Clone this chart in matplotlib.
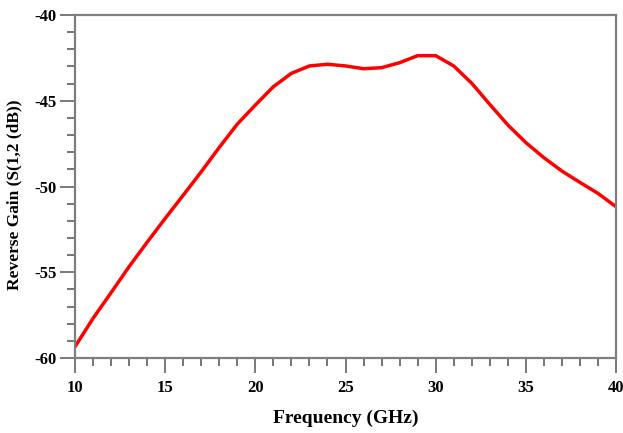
import matplotlib
matplotlib.use("Agg")
import matplotlib.pyplot as plt
from matplotlib.ticker import MultipleLocator

# reverse gain S(1,2) sampled every 1 GHz
freq_ghz = list(range(10, 41))
s12_db = [-59.34, -57.69, -56.19, -54.67, -53.25, -51.86, -50.51, -49.14,
          -47.72, -46.36, -45.25, -44.18, -43.40, -42.97, -42.87, -42.97,
          -43.13, -43.07, -42.78, -42.37, -42.37, -42.97, -43.98, -45.21,
          -46.41, -47.44, -48.32, -49.10, -49.76, -50.40, -51.18]

plt.rcParams['font.family'] = ['Liberation Serif', 'DejaVu Serif']
plt.rcParams['font.weight'] = 'bold'
plt.rcParams['axes.unicode_minus'] = False

fig = plt.figure(figsize=(6.23, 4.33), dpi=100)
ax = fig.add_axes([0.1204, 0.1732, 0.8684, 0.7921])

ax.plot(freq_ghz, s12_db, color='#ff0000', linewidth=2.5,
        solid_joinstyle='round')

ax.set_xlim(10, 40)
ax.set_ylim(-60, -40)
ax.xaxis.set_major_locator(MultipleLocator(5))
ax.xaxis.set_minor_locator(MultipleLocator(1))
ax.yaxis.set_major_locator(MultipleLocator(5))
ax.yaxis.set_minor_locator(MultipleLocator(1))

for side in ['left', 'bottom', 'top', 'right']:
    ax.spines[side].set_color('#7f7f7f')
    ax.spines[side].set_linewidth(1.6)

ax.tick_params(which='major', direction='out', length=10.5, width=1.3,
               color='#707070', labelsize=12, pad=3)
ax.tick_params(axis='x', which='major', pad=5)
ax.tick_params(which='minor', direction='out', length=6, width=1.1,
               color='#505050')
ax.tick_params(top=False, right=False, which='both')

ax.set_xlabel('Frequency (GHz)', fontsize=14, fontweight='bold')
ax.xaxis.set_label_coords(0.5, -0.152)
ax.set_ylabel('Reverse Gain (S(1,2 (dB))', fontsize=12.5, fontweight='bold')
ax.yaxis.set_label_coords(-0.097, 0.475)

fig.savefig('out.png', dpi=100)
